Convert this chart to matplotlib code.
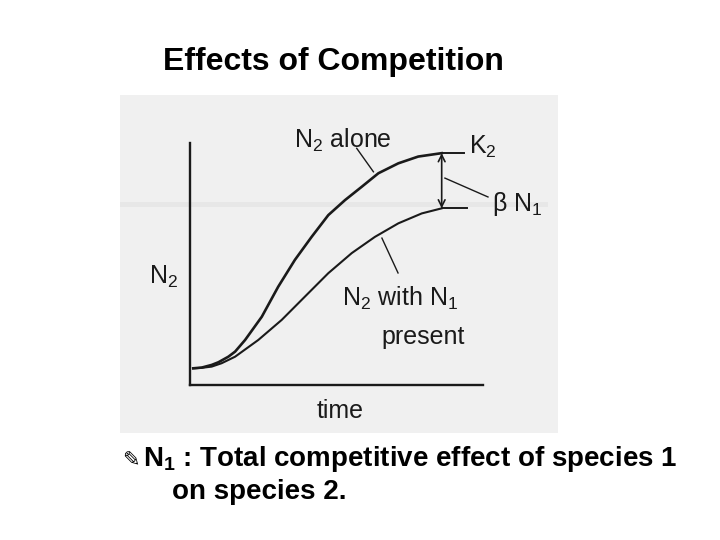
import matplotlib
matplotlib.use("Agg")
import matplotlib.pyplot as plt
from matplotlib.patches import Rectangle

plt.rcParams['mathtext.fontset'] = 'custom'
plt.rcParams['mathtext.rm'] = 'Liberation Sans'
plt.rcParams['mathtext.it'] = 'Liberation Sans:italic'
plt.rcParams['mathtext.bf'] = 'Liberation Sans:bold'

# curve data (time, N2)
alone_t = [0.11, 0.40, 0.74, 0.97, 1.31, 1.54, 1.88, 2.45, 3.01, 3.58, 4.15, 4.72, 5.29, 5.86, 6.43, 7.11, 7.79, 8.59]
alone_n = [0.69, 0.72, 0.83, 0.94, 1.17, 1.38, 1.86, 2.82, 4.06, 5.17, 6.12, 7.02, 7.64, 8.19, 8.75, 9.16, 9.44, 9.58]
with_t = [0.11, 0.40, 0.74, 1.08, 1.54, 2.33, 3.13, 3.92, 4.72, 5.52, 6.31, 7.11, 7.91, 8.59]
with_n = [0.69, 0.71, 0.76, 0.90, 1.17, 1.86, 2.69, 3.65, 4.62, 5.45, 6.12, 6.68, 7.09, 7.30]
k_end = 9.35
n1_end = 9.45

W, H = 720, 540
fig = plt.figure(figsize=(7.2, 5.4), dpi=100)
fig.patch.set_facecolor('white')


def px(x, y):
    return x / W, 1 - y / H


# scanned figure background
fig.add_artist(Rectangle(px(120, 433), (558 - 120) / W, (433 - 95) / H,
                         transform=fig.transFigure, facecolor='#f0f0f0',
                         edgecolor='none', zorder=0))
fig.add_artist(Rectangle(px(120, 207), (548 - 120) / W, 5 / H,
                         transform=fig.transFigure, facecolor='#e7e7e7',
                         edgecolor='none', zorder=0))

ax = fig.add_axes([190 / W, 1 - 385 / H, (483 - 190) / W, (385 - 143) / H])
ax.set_xlim(0, 10)
ax.set_ylim(0, 10)
ax.patch.set_alpha(0)
for s in ['top', 'right']:
    ax.spines[s].set_visible(False)
for s in ['left', 'bottom']:
    ax.spines[s].set_linewidth(1.7)
    ax.spines[s].set_color('#1a1a1a')
ax.set_xticks([])
ax.set_yticks([])

lc = '#1a1a1a'
ax.plot(alone_t, alone_n, color=lc, lw=1.9, clip_on=False, solid_joinstyle='round')
ax.plot(with_t, with_n, color=lc, lw=1.5, clip_on=False, solid_joinstyle='round')
ax.plot([alone_t[-1], k_end], [alone_n[-1], alone_n[-1]], color=lc, lw=1.4, clip_on=False)
ax.plot([with_t[-1], n1_end], [with_n[-1], with_n[-1]], color=lc, lw=1.4, clip_on=False)
ax.annotate('', xy=(alone_t[-1], alone_n[-1]), xytext=(alone_t[-1], with_n[-1]),
            arrowprops=dict(arrowstyle='<->', color=lc, lw=1.2,
                            shrinkA=0, shrinkB=0, mutation_scale=12),
            annotation_clip=False)

# leader lines
ax.plot([5.69, 6.26], [9.78, 8.81], color=lc, lw=1.0, clip_on=False)
ax.plot([6.55, 7.10], [6.07, 4.63], color=lc, lw=1.0, clip_on=False)
ax.plot([8.70, 10.17], [8.55, 7.77], color=lc, lw=1.0, clip_on=False)

kw = dict(family=['Liberation Sans', 'DejaVu Sans'], fontsize=18, color='#1a1a1a')
fig.text(*px(294, 148), r'N$_2$ alone', ha='left', va='baseline', **kw)
fig.text(*px(469, 154), r'K$_2$', ha='left', va='baseline', **kw)
fig.text(*px(492, 211), r'β N$_1$', ha='left', va='baseline', **kw)
fig.text(*px(149, 284), r'N$_2$', ha='left', va='baseline', **kw)
fig.text(*px(342, 306), r'N$_2$ with N$_1$', ha='left', va='baseline', **kw)
fig.text(*px(381, 344), 'present', ha='left', va='baseline', **kw)
fig.text(*px(317, 418), 'time', ha='left', va='baseline', **kw)

bold = dict(family=['Liberation Sans', 'DejaVu Sans'], fontweight='bold',
            color='black')
fig.text(*px(163, 70), 'Effects of Competition', ha='left', va='baseline',
         fontsize=23, **bold)
fig.text(*px(122, 466), '\u270e', ha='left', va='baseline',
         family='DejaVu Sans', fontsize=15, color='black')
fig.text(*px(143, 466), r'N$_\mathbf{1}$ : Total competitive effect of species 1',
         ha='left', va='baseline', fontsize=20, **bold)
fig.text(*px(172, 499), 'on species 2.', ha='left', va='baseline',
         fontsize=20, **bold)

fig.savefig('out.png', dpi=100, facecolor='white')
